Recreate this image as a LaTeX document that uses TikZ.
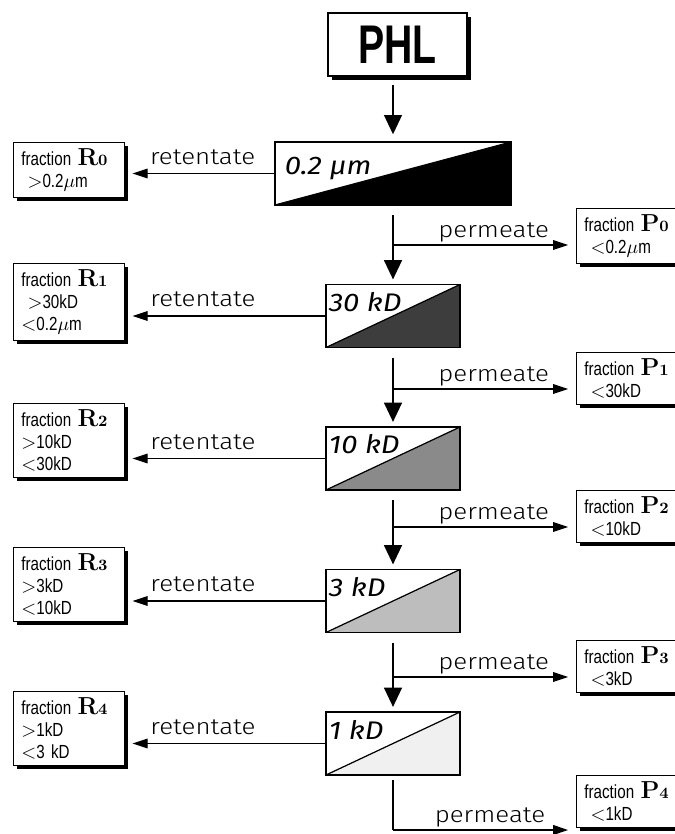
\documentclass[tikz,border=0pt]{standalone}
\usepackage{fontspec}
\usetikzlibrary{arrows.meta,shadows}
\newfontfamily\narrowfont{Liberation Sans}[FakeStretch=0.8]
\newfontfamily\handfont{Fira Sans Light}[FakeStretch=1.15]
\newfontfamily\filterfont{Fira Sans}[FakeStretch=1.15]
\newfontfamily\phlfont{Liberation Sans}[FakeStretch=0.72]
\definecolor{filtA}{gray}{0}
\definecolor{filtB}{gray}{0.24}
\definecolor{filtC}{gray}{0.54}
\definecolor{filtD}{gray}{0.74}
\definecolor{filtE}{gray}{0.94}
\newcommand{\fracid}[2]{{\rmfamily\bfseries\fontsize{14}{14}\selectfont #1\fontsize{9}{9}\selectfont #2}}
\begin{document}
\begin{tikzpicture}[x = 0.02cm, y = -0.02cm,
		shadowed/.style = {drop shadow = {shadow xshift = 2.2pt, shadow yshift = -2.2pt, opacity = 1, fill = black}},
		fracbox/.style = {draw, fill = white, line width = 0.6pt, shadowed, anchor = north west, text width = 54pt, inner xsep = 4.5pt, inner ysep = 3.5pt, align = left, font = \narrowfont\fontsize{10.8}{12.5}\selectfont},
		filterbox/.style = {draw, line width = 0.7pt, minimum width = 2.68cm, minimum height = 1.26cm, inner sep = 0pt,
			path picture = {\fill[#1] (path picture bounding box.south west) -- (path picture bounding box.north east) -- (path picture bounding box.south east) -- cycle;
				\draw[line width = 0.7pt] (path picture bounding box.south west) -- (path picture bounding box.north east);}},
		filterlbl/.style = {anchor = base west, inner sep = 0pt, font = \filterfont\itshape\fontsize{14.5}{14.5}\selectfont},
		retlbl/.style = {above = 5pt, inner sep = 0pt, text depth = 0pt, font = \handfont\fontsize{12.8}{12.8}\selectfont},
		permlbl/.style = {above = 4pt, inner sep = 0pt, text depth = 0pt, font = \handfont\fontsize{12.8}{12.8}\selectfont},
		downarrow/.style = {line width = 1.5pt, -{Triangle[length = 11pt, width = 10pt]}, shorten <= 5.5pt, shorten >= 2.5pt},
		sidearrow/.style = {line width = 0.6pt, -{Triangle[length = 8.5pt, width = 5.5pt]}, shorten >= 4.5pt}]
	\useasboundingbox (0, 0) rectangle (674, 834);
	\node at (397.5, 44.5) [draw, fill = white, line width = 0.7pt, shadowed, minimum width = 2.78cm, minimum height = 1.26cm, font = \phlfont\bfseries\fontsize{31}{31}\selectfont] (PHL) {PHL};
	\node at (393, 173.5) [filterbox = filtA, minimum width = 4.72cm] (F0) {};
		\node at ([shift = {(10, 33)}]F0.north west) [filterlbl] (f0) {0.2 µm};
		\draw[downarrow, shorten <= 5pt, shorten >= 4pt] (PHL.south -| F0.north) -- (F0.north);
	\node at (13, 142) [fracbox] (R0) {fraction \fracid{R}{0}\\\hspace*{3.5pt}$>$0.2$\mu$m};
		\draw[sidearrow] (F0.west) -- (F0.west -| R0.east) node[retlbl, pos = 0.48] (rl0) {retentate};
	\node at (576, 208) [fracbox] (P0) {fraction \fracid{P}{0}\\\hspace*{3.5pt}$<$0.2$\mu$m};
		\coordinate (p0) at (393, 245);
		\draw[sidearrow] (p0) -- (p0 -| P0.west) node[permlbl, pos = 0.55] (pl0) {permeate};
	\node at (393, 316) [filterbox = filtB] (F1) {};
		\node at ([shift = {(3, 28)}]F1.north west) [filterlbl] (f1) {30 kD};
		\draw[downarrow] (F0.south) -- (F1.north);
	\node at (13, 263) [fracbox] (R1) {fraction \fracid{R}{1}\\\hspace*{3.5pt}$>$30kD\\$<$0.2$\mu$m};
		\draw[sidearrow] (F1.west) -- (F1.west -| R1.east) node[retlbl, pos = 0.61] (rl1) {retentate};
	\node at (576, 352) [fracbox] (P1) {fraction \fracid{P}{1}\\\hspace*{3.5pt}$<$30kD};
		\coordinate (p1) at (393, 389);
		\draw[sidearrow] (p1) -- (p1 -| P1.west) node[permlbl, pos = 0.55] (pl1) {permeate};
	\node at (393, 458.5) [filterbox = filtC] (F2) {};
		\node at ([shift = {(3, 27)}]F2.north west) [filterlbl] (f2) {10 kD};
		\draw[downarrow] (F1.south) -- (F2.north);
	\node at (13, 403) [fracbox] (R2) {fraction \fracid{R}{2}\\$>$10kD\\$<$30kD};
		\draw[sidearrow] (F2.west) -- (F2.west -| R2.east) node[retlbl, pos = 0.61] (rl2) {retentate};
	\node at (576, 490) [fracbox] (P2) {fraction \fracid{P}{2}\\\hspace*{3.5pt}$<$10kD};
		\coordinate (p2) at (393, 527);
		\draw[sidearrow] (p2) -- (p2 -| P2.west) node[permlbl, pos = 0.55] (pl2) {permeate};
	\node at (393, 601) [filterbox = filtD] (F3) {};
		\node at ([shift = {(3, 28)}]F3.north west) [filterlbl] (f3) {3 kD};
		\draw[downarrow] (F2.south) -- (F3.north);
	\node at (13, 547) [fracbox] (R3) {fraction \fracid{R}{3}\\$>$3kD\\$<$10kD};
		\draw[sidearrow] (F3.west) -- (F3.west -| R3.east) node[retlbl, pos = 0.61] (rl3) {retentate};
	\node at (576, 640) [fracbox] (P3) {fraction \fracid{P}{3}\\\hspace*{3.5pt}$<$3kD};
		\coordinate (p3) at (393, 677);
		\draw[sidearrow] (p3) -- (p3 -| P3.west) node[permlbl, pos = 0.55] (pl3) {permeate};
	\node at (393, 743.5) [filterbox = filtE] (F4) {};
		\node at ([shift = {(3, 28)}]F4.north west) [filterlbl] (f4) {1 kD};
		\draw[downarrow] (F3.south) -- (F4.north);
	\node at (13, 691) [fracbox] (R4) {fraction \fracid{R}{4}\\$>$1kD\\$<$3 kD};
		\draw[sidearrow] (F4.west) -- (F4.west -| R4.east) node[retlbl, pos = 0.61] (rl4) {retentate};
	\node at (576, 775) [fracbox] (P4) {fraction \fracid{P}{4}\\\hspace*{3.5pt}$<$1kD};
		\coordinate (p4) at (393, 830);
		\draw[line width = 1.5pt, shorten <= 2.5pt] (F4.south) -- (p4);
		\draw[sidearrow, line width = 1pt] (p4) -- (p4 -| P4.west) node[permlbl, pos = 0.53] (pl4) {permeate};
\end{tikzpicture}
\end{document}
